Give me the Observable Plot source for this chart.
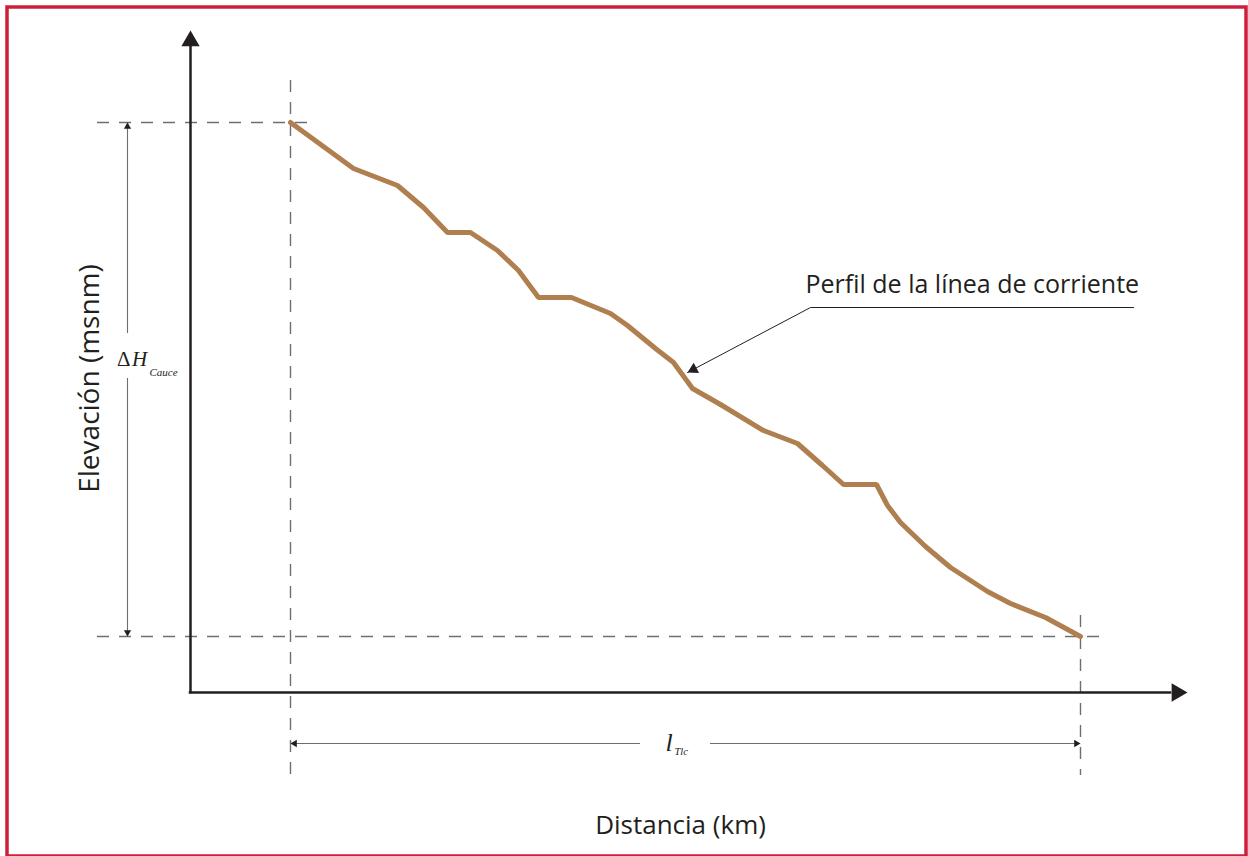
<!DOCTYPE html>
<html>
<head>
<meta charset="utf-8">
<script src="https://cdn.jsdelivr.net/npm/d3@7"></script>
<script src="https://cdn.jsdelivr.net/npm/@observablehq/plot@0.6"></script>
<style>
  html, body { margin: 0; padding: 0; background: #fff; }
  svg { display: block; }
</style>
</head>
<body>
<div id="chart"></div>
<script>
// Profile of the stream line (distance, elevation)
const distancia = [10, 16.3, 20.7, 23.3, 25.7, 28, 30.7, 32.8, 34.8, 38.1, 42, 43.7, 46.5, 48.3, 50.2, 53, 57.3, 60.7, 63.2, 65.3, 68.6, 69.7, 71, 73.5, 76, 79.7, 82, 85.5, 89];
const elevacion = [57, 52.4, 50.7, 48.5, 46, 46, 44.2, 42.2, 39.5, 39.5, 37.9, 36.7, 34.4, 33, 30.4, 28.8, 26.2, 24.9, 22.7, 20.8, 20.8, 18.7, 17, 14.6, 12.5, 10.1, 8.9, 7.5, 5.6];

// Text labels
const labelX = "Distancia (km)";
const labelY = "Elevación (msnm)";
const labelProfile = "Perfil de la línea de corriente";
const labelDH = ["Δ", "H", "Cauce"];
const labelL = ["l", "Tlc"];

const ink = "#231f20";
const grey = "#6d6e71";
const brown = "#b07f4f";
const red = "#cf1e3c";

const profile = distancia.map((d, i) => ({d, e: elevacion[i]}));
const x0 = distancia[0], x1 = distancia[distancia.length - 1];
const hTop = elevacion[0], hBot = elevacion[elevacion.length - 1];

const PX = 10; // pixels per data unit (both axes)
function head(tipX, tipY, angle, r) {
  const L = 2 * Math.sqrt((Math.PI * r * r) / (3 * Math.sqrt(3)));
  const t = angle * Math.PI / 180;
  return {x: tipX - Math.sin(t) * L / PX, y: tipY - Math.cos(t) * L / PX, rotate: angle};
}

// Leader line geometry (data units)
const leaderTail = {x: 62, y: 38.5};
const leaderTip = {x: 49.7, y: 32};
const leaderAngle = Math.atan2(leaderTip.x - leaderTail.x, leaderTip.y - leaderTail.y) * 180 / Math.PI;

const R_AXIS = 6.8, R_DIM = 2.7, R_LEAD = 4.3;
const axisHeads = [head(0, 66.2, 0, R_AXIS), head(99.7, 0, 90, R_AXIS)];
const dimX = -6.3, dimY = -5.1;
const dimHeads = [
  head(dimX, hTop, 0, R_DIM),
  head(dimX, hBot, 180, R_DIM),
  head(x0, dimY, -90, R_DIM),
  head(x1, dimY, 90, R_DIM)
];
const leadHeads = [head(leaderTip.x, leaderTip.y, leaderAngle, R_LEAD)];

const chart = Plot.plot({
  width: 1248,
  height: 856,
  marginTop: 0, marginRight: 0, marginBottom: 0, marginLeft: 0,
  x: {domain: [-19, 105.8], axis: null},
  y: {domain: [-16.4, 69.2], axis: null},
  marks: [
    Plot.frame({stroke: red, strokeWidth: 3.5, insetLeft: 6.5, insetTop: 6.5, insetRight: 2.5, insetBottom: 0.5}),
    // dashed guides
    Plot.ruleY([hTop], {x1: -9.3, x2: 12.5, stroke: grey, strokeWidth: 1.4, strokeDasharray: "12,10"}),
    Plot.ruleY([hBot], {x1: -9.3, x2: 91, stroke: grey, strokeWidth: 1.4, strokeDasharray: "12,10"}),
    Plot.ruleX([x0], {y1: 61.2, y2: -8.3, stroke: grey, strokeWidth: 1.4, strokeDasharray: "12,10"}),
    Plot.ruleX([x1], {y1: 7.7, y2: -8.3, stroke: grey, strokeWidth: 1.4, strokeDasharray: "12,10"}),
    // axes
    Plot.ruleX([0], {y1: 0, y2: 64.5, stroke: ink, strokeWidth: 2.5, strokeLinecap: "square"}),
    Plot.ruleY([0], {x1: 0, x2: 98, stroke: ink, strokeWidth: 2.5, strokeLinecap: "square"}),
    Plot.dot(axisHeads, {x: "x", y: "y", r: R_AXIS, rotate: "rotate", symbol: "triangle", fill: ink, stroke: null}),
    // dimension lines
    Plot.ruleX([dimX, dimX], {y1: [hTop, 31.4], y2: [35.9, hBot], stroke: grey, strokeWidth: 1.1}),
    Plot.ruleY([dimY, dimY], {x1: [x0, 52], x2: [45, x1], stroke: grey, strokeWidth: 1.1}),
    Plot.dot(dimHeads, {x: "x", y: "y", r: R_DIM, rotate: "rotate", symbol: "triangle", fill: ink, stroke: null}),
    // profile
    Plot.line(profile, {x: "d", y: "e", stroke: brown, strokeWidth: 5, strokeLinejoin: "miter"}),
    // leader
    Plot.line([{x: 94.3, y: 38.5}, leaderTail, leaderTip], {x: "x", y: "y", stroke: ink, strokeWidth: 1}),
    Plot.dot(leadHeads, {x: "x", y: "y", r: R_LEAD, rotate: "rotate", symbol: "triangle", fill: ink, stroke: null}),
    // labels
    Plot.text([labelProfile], {x: 61.5, y: 40.8, text: d => d, textAnchor: "start", fontSize: 25, fontFamily: "Open Sans", fill: ink}),
    Plot.text([labelY], {x: -10, y: 31.4, text: d => d, rotate: -90, fontSize: 28, fontFamily: "Open Sans", fill: ink}),
    Plot.text([labelX], {x: 49, y: -13.3, text: d => d, fontSize: 26, fontFamily: "Open Sans", fill: ink}),
    Plot.text([labelDH[0]], {x: -7.35, y: 33.3, text: d => d, textAnchor: "start", fontSize: 21, fontFamily: "Liberation Serif", fill: ink}),
    Plot.text([labelDH[1]], {x: -5.85, y: 33.3, text: d => d, textAnchor: "start", fontSize: 21, fontStyle: "italic", fontFamily: "Liberation Serif", fill: ink}),
    Plot.text([labelDH[2]], {x: -4.1, y: 32.0, text: d => d, textAnchor: "start", fontSize: 11, fontStyle: "italic", fontFamily: "Liberation Serif", fill: ink}),
    Plot.text([labelL[0]], {x: 47.5, y: -5.0, text: d => d, textAnchor: "start", fontSize: 26, fontStyle: "italic", fontFamily: "Liberation Serif", fill: ink}),
    Plot.text([labelL[1]], {x: 48.4, y: -5.9, text: d => d, textAnchor: "start", fontSize: 10.5, fontStyle: "italic", fontFamily: "Liberation Serif", fill: ink})
  ]
});
document.getElementById("chart").appendChild(chart);
</script>
</body>
</html>
